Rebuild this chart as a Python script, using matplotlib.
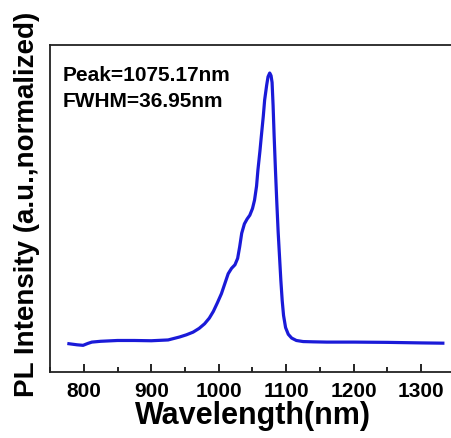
import matplotlib
matplotlib.use("Agg")
import matplotlib.pyplot as plt
from matplotlib.ticker import MultipleLocator

plt.rcParams['font.family'] = ['Liberation Sans', 'DejaVu Sans']

wavelength = [778, 790, 799, 806, 812, 825, 850, 875, 900, 925, 942, 952, 962, 971,
              979, 986, 992, 998, 1004, 1009, 1014, 1019, 1024, 1028, 1031, 1034,
              1038, 1042, 1046, 1050, 1053, 1056, 1058, 1061, 1063, 1066, 1068, 1071,
              1073, 1075.5, 1077.5, 1079, 1080.5, 1082, 1084, 1086, 1088, 1090, 1092,
              1094, 1096, 1099, 1103, 1108, 1115, 1125, 1140, 1160, 1200, 1250, 1300,
              1332]
intensity = [-0.005, -0.009, -0.011, -0.004, 0.001, 0.004, 0.007, 0.007, 0.006, 0.009,
             0.020, 0.028, 0.038, 0.052, 0.069, 0.090, 0.115, 0.147, 0.181, 0.218,
             0.255, 0.275, 0.288, 0.312, 0.355, 0.405, 0.440, 0.458, 0.472, 0.497,
             0.528, 0.580, 0.639, 0.710, 0.763, 0.840, 0.900, 0.955, 0.986, 1.000,
             0.990, 0.965, 0.880, 0.770, 0.640, 0.520, 0.410, 0.320, 0.230, 0.155,
             0.100, 0.055, 0.030, 0.016, 0.007, 0.003, 0.002, 0.001, 0.001, 0.000,
             -0.002, -0.003]
xticks = [800, 900, 1000, 1100, 1200, 1300]
annot_lines = ["Peak=1075.17nm", "FWHM=36.95nm"]

fig = plt.figure(figsize=(4.52, 4.38), dpi=100)
ax = fig.add_axes([50/452, 66/438, 405/452, 327/438])

ax.plot(wavelength, intensity, color='#1a1ad8', lw=2.3)

ax.set_xlim(750, 1350)
ax.set_ylim(-0.11, 1.104)
ax.set_xticks(xticks)
ax.xaxis.set_minor_locator(MultipleLocator(50))
ax.tick_params(axis='x', which='major', direction='in', length=6, width=1.2,
               labelsize=15, pad=7)
ax.tick_params(axis='x', which='minor', direction='in', length=3.5, width=1.2)
ax.set_yticks([])
for lab in ax.get_xticklabels():
    lab.set_fontweight('bold')
for s in ax.spines.values():
    s.set_linewidth(1.3)
    s.set_color('#222222')

ax.set_xlabel("Wavelength(nm)", fontsize=22, fontweight='bold')
ax.set_ylabel("PL Intensity (a.u.,normalized)", fontsize=20, fontweight='bold')
ax.yaxis.set_label_coords(-10/405, 0.514)
ax.xaxis.set_label_coords(0.5, -29/327)

ax.text(0.03, 0.908, annot_lines[0], transform=ax.transAxes, fontsize=15,
        fontweight='bold', va='center', ha='left')
ax.text(0.03, 0.826, annot_lines[1], transform=ax.transAxes, fontsize=15,
        fontweight='bold', va='center', ha='left')

fig.savefig("out.png", dpi=100)
